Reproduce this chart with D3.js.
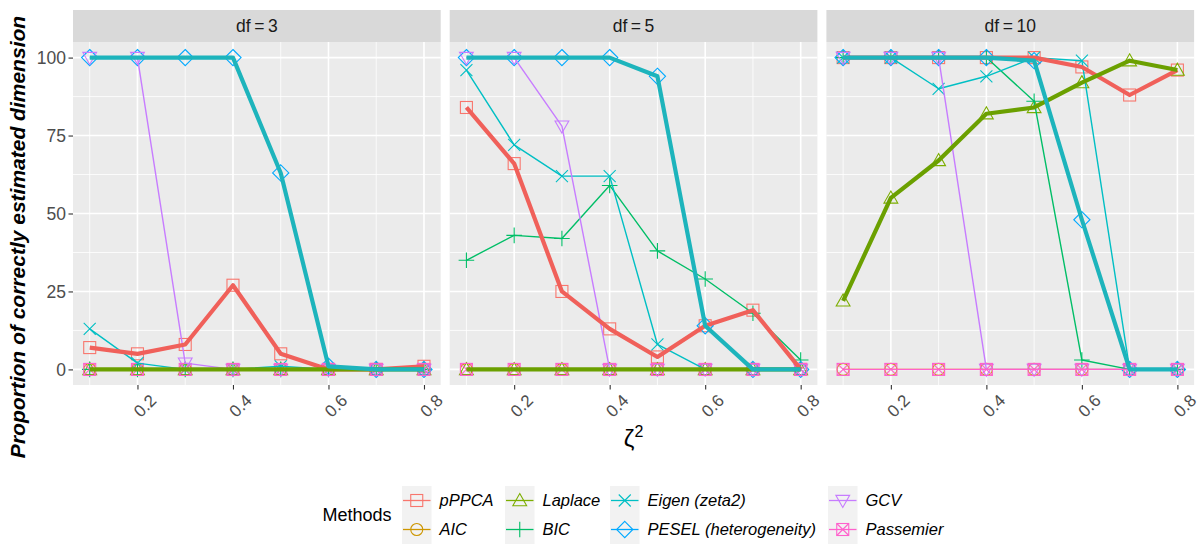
<!DOCTYPE html>
<html>
<head>
<meta charset="utf-8">
<script src="https://cdn.jsdelivr.net/npm/d3@7"></script>
<style>
  body { margin: 0; background: #fff; }
  svg text { font-family: "Liberation Sans", Arial, sans-serif; }
</style>
</head>
<body>
<div id="chart"></div>
<script>
// ---- data ----
var zeta2 = [0.1, 0.2, 0.3, 0.4, 0.5, 0.6, 0.7, 0.8];
var xTicks = [0.2, 0.4, 0.6, 0.8];
var yTicks = [0, 25, 50, 75, 100];
var panels = ["df = 3", "df = 5", "df = 10"];
var methods = ["pPPCA", "AIC", "Laplace", "BIC", "Eigen (zeta2)", "PESEL (heterogeneity)", "GCV", "Passemier"];

// one row per panel (df = 3, 5, 10)
var pPPCA = [
    [7, 5, 8, 27, 5, 0, 0, 1],
    [84, 66, 25, 13, 4, 14, 19, 0],
    [100, 100, 100, 100, 100, 97, 88, 96]
];
var AIC = [
    [0, 0, 0, 0, 0, 0, 0, 0],
    [0, 0, 0, 0, 0, 0, 0, 0],
    [0, 0, 0, 0, 0, 0, 0, 0]
];
var Laplace = [
    [0, 0, 0, 0, 0, 0, 0, 0],
    [0, 0, 0, 0, 0, 0, 0, 0],
    [22, 55, 67, 82, 84, 92, 99, 96]
];
var BIC = [
    [0, 0, 0, 0, 0, 0, 0, 0],
    [35, 43, 42, 59, 38, 29, 18, 3],
    [100, 100, 100, 100, 86, 3, 0, 0]
];
var Eigen = [
    [13, 2, 0, 0, 1, 0, 0, 0],
    [96, 72, 62, 62, 8, 0, 0, 0],
    [100, 100, 90, 94, 100, 99, 0, 0]
];
var PESEL = [
    [100, 100, 100, 100, 63, 1, 0, 0],
    [100, 100, 100, 100, 94, 14, 0, 0],
    [100, 100, 100, 100, 99, 48, 0, 0]
];
var GCV = [
    [100, 100, 2, 0, 0, 0, 0, 0],
    [100, 100, 78, 0, 0, 0, 0, 0],
    [100, 100, 100, 0, 0, 0, 0, 0]
];
var Passemier = [
    [0, 0, 0, 0, 0, 0, 0, 0],
    [0, 0, 0, 0, 0, 0, 0, 0],
    [0, 0, 0, 0, 0, 0, 0, 0]
];
var seriesValues = [pPPCA, AIC, Laplace, BIC, Eigen, PESEL, GCV, Passemier];

// ---- styling ----
var pointColors = ["#F8766D", "#CD9600", "#7CAE00", "#00BE67", "#00BFC4", "#00A9FF", "#C77CFF", "#FF61CC"];
var lineColors = ["#F0605A", "#CD9600", "#6BA000", "#00BE67", "#00BFC4", "#1DB4BC", "#C77CFF", "#FF61CC"];
var thick = [true, false, true, false, false, true, false, false];
var shapes = ["square", "circle", "triangle", "plus", "cross", "diamond", "triangleDown", "squareCross"];

var width = 1200, height = 544;
var margin = { left: 73, top: 10 };
var stripH = 32;
var panelW = 367.7, panelH = 343, gap = 9;

var svg = d3.select("#chart").append("svg")
    .attr("width", width)
    .attr("height", height);

var x = d3.scaleLinear()
    .domain([0.065, 0.835])
    .range([0, panelW]);
var y = d3.scaleLinear()
    .domain([-5, 105])
    .range([panelH, 0]);

// ggplot-ish open shapes, s = half size
function shapePath(g, shape, color, s) {
    var xPath = "M" + (-s) + "," + (-s) + "L" + s + "," + s + "M" + (-s) + "," + s + "L" + s + "," + (-s);
    switch (shape) {
        case "square":
            g.append("rect").attr("x", -s).attr("y", -s).attr("width", 2 * s).attr("height", 2 * s)
                .attr("fill", "none").attr("stroke", color);
            break;
        case "circle":
            g.append("circle").attr("r", s).attr("fill", "none").attr("stroke", color);
            break;
        case "triangle":
            var h = s * 1.15;
            g.append("path").attr("d", "M0," + (-h) + "L" + h + "," + (h * 0.75) + "L" + (-h) + "," + (h * 0.75) + "Z")
                .attr("fill", "none").attr("stroke", color);
            break;
        case "triangleDown":
            var h2 = s * 1.15;
            g.append("path").attr("d", "M0," + h2 + "L" + h2 + "," + (-h2 * 0.75) + "L" + (-h2) + "," + (-h2 * 0.75) + "Z")
                .attr("fill", "none").attr("stroke", color);
            break;
        case "plus":
            var p = s * 1.3;
            g.append("path").attr("d", "M" + (-p) + ",0H" + p + "M0," + (-p) + "V" + p)
                .attr("fill", "none").attr("stroke", color);
            break;
        case "cross":
            g.append("path").attr("d", xPath).attr("fill", "none").attr("stroke", color);
            break;
        case "diamond":
            var d = s * 1.35;
            g.append("path").attr("d", "M0," + (-d) + "L" + d + ",0L0," + d + "L" + (-d) + ",0Z")
                .attr("fill", "none").attr("stroke", color);
            break;
        case "squareCross":
            g.append("rect").attr("x", -s).attr("y", -s).attr("width", 2 * s).attr("height", 2 * s)
                .attr("fill", "none").attr("stroke", color);
            g.append("path").attr("d", xPath).attr("fill", "none").attr("stroke", color);
            break;
    }
}

var line = d3.line()
    .x(function (d, i) { return x(zeta2[i]); })
    .y(function (d) { return y(d); });

panels.forEach(function (label, p) {
    var left = margin.left + p * (panelW + gap);
    var g = svg.append("g")
        .attr("transform", "translate(" + left + "," + (margin.top + stripH) + ")");

    // strip
    svg.append("rect")
        .attr("x", left).attr("y", margin.top)
        .attr("width", panelW).attr("height", stripH)
        .attr("fill", "#D9D9D9");
    svg.append("text")
        .attr("x", left + panelW / 2).attr("y", margin.top + stripH / 2)
        .attr("dy", "0.36em")
        .attr("text-anchor", "middle")
        .attr("font-size", 17.5)
        .attr("fill", "#1A1A1A")
        .attr("xml:space", "preserve")
        .text(label.replace(" = ", "\u2009=\u2009"));

    // panel background + grid
    g.append("rect").attr("width", panelW).attr("height", panelH).attr("fill", "#EBEBEB");
    var minorX = [0.1, 0.3, 0.5, 0.7];
    var minorY = [12.5, 37.5, 62.5, 87.5];
    g.selectAll(".minx").data(minorX).enter().append("line")
        .attr("x1", x).attr("x2", x).attr("y1", 0).attr("y2", panelH)
        .attr("stroke", "#fff").attr("stroke-width", 0.8);
    g.selectAll(".miny").data(minorY).enter().append("line")
        .attr("x1", 0).attr("x2", panelW).attr("y1", y).attr("y2", y)
        .attr("stroke", "#fff").attr("stroke-width", 0.8);
    g.selectAll(".majx").data(xTicks).enter().append("line")
        .attr("x1", x).attr("x2", x).attr("y1", 0).attr("y2", panelH)
        .attr("stroke", "#fff").attr("stroke-width", 1.6);
    g.selectAll(".majy").data(yTicks).enter().append("line")
        .attr("x1", 0).attr("x2", panelW).attr("y1", y).attr("y2", y)
        .attr("stroke", "#fff").attr("stroke-width", 1.6);

    // x axis
    var xAxis = g.append("g")
        .attr("transform", "translate(0," + panelH + ")")
        .call(d3.axisBottom(x).tickValues(xTicks).tickSize(4.5).tickPadding(0).tickFormat(d3.format(".1f")));
    xAxis.select(".domain").remove();
    xAxis.selectAll("line").attr("stroke", "#333").attr("stroke-width", 1.1);
    xAxis.selectAll("text")
        .attr("font-size", 17)
        .attr("fill", "#4D4D4D")
        .attr("text-anchor", "end")
        .attr("y", 0).attr("dy", null)
        .attr("transform", "translate(11,8) rotate(-45)")
        .attr("dominant-baseline", "hanging");

    // y axis only on first panel
    if (p === 0) {
        var yAxis = g.append("g")
            .call(d3.axisLeft(y).tickValues(yTicks).tickSize(4.5).tickPadding(2.5));
        yAxis.select(".domain").remove();
        yAxis.selectAll("line").attr("stroke", "#333").attr("stroke-width", 1.1);
        yAxis.selectAll("text").attr("font-size", 17.5).attr("fill", "#4D4D4D");
    }

    // points
    methods.forEach(function (m, k) {
        var vals = seriesValues[k][p];
        g.append("g").selectAll("g").data(vals).enter().append("g")
            .attr("transform", function (d, i) { return "translate(" + x(zeta2[i]) + "," + y(d) + ")"; })
            .attr("stroke-width", 1.1)
            .each(function () { shapePath(d3.select(this), shapes[k], pointColors[k], 6); });
    });

    // thin lines, then thick lines
    [false, true].forEach(function (isThick) {
        methods.forEach(function (m, k) {
            if (thick[k] !== isThick) return;
            g.append("path")
                .datum(seriesValues[k][p])
                .attr("d", line)
                .attr("fill", "none")
                .attr("stroke", lineColors[k])
                .attr("stroke-width", isThick ? 4.2 : 1.4)
                .attr("stroke-linejoin", "round");
        });
    });
});

// axis titles
svg.append("text")
    .attr("transform", "translate(25,237) rotate(-90)")
    .attr("text-anchor", "middle")
    .attr("font-size", 21)
    .attr("font-weight", "bold")
    .attr("font-style", "italic")
    .attr("fill", "#000")
    .text("Proportion of correctly estimated dimension");

var xTitle = svg.append("text")
    .attr("x", margin.left + (3 * panelW + 2 * gap) / 2)
    .attr("y", 447)
    .attr("text-anchor", "middle")
    .attr("font-size", 24)
    .attr("fill", "#000");
xTitle.append("tspan").text("ζ");
xTitle.append("tspan").attr("font-size", 16).attr("dy", -10).text("2");

// legend
var legendCols = [[0, 1], [2, 3], [4, 5], [6, 7]];
var colX = [402, 505, 610, 828];
var rowY = [486, 515];
var keyW = 29.5, keyH = 29;

svg.append("text")
    .attr("x", 322.5).attr("y", 515)
    .attr("dy", "0.36em")
    .attr("font-size", 18)
    .attr("fill", "#000")
    .text("Methods");

legendCols.forEach(function (col, c) {
    col.forEach(function (k, r) {
        var kx = colX[c], ky = rowY[r];
        svg.append("rect")
            .attr("x", kx).attr("y", ky)
            .attr("width", keyW).attr("height", keyH)
            .attr("fill", "#F2F2F2");
        svg.append("line")
            .attr("x1", kx + 1).attr("x2", kx + keyW - 1)
            .attr("y1", ky + keyH / 2).attr("y2", ky + keyH / 2)
            .attr("stroke", pointColors[k]).attr("stroke-width", 1.3);
        var kg = svg.append("g")
            .attr("transform", "translate(" + (kx + keyW / 2) + "," + (ky + keyH / 2) + ")")
            .attr("stroke-width", 1.1);
        shapePath(kg, shapes[k], pointColors[k], 6);
        svg.append("text")
            .attr("x", kx + keyW + 8).attr("y", ky + keyH / 2)
            .attr("dy", "0.36em")
            .attr("font-size", 16.5)
            .attr("font-style", "italic")
            .attr("fill", "#000")
            .text(methods[k]);
    });
});
</script>
</body>
</html>
